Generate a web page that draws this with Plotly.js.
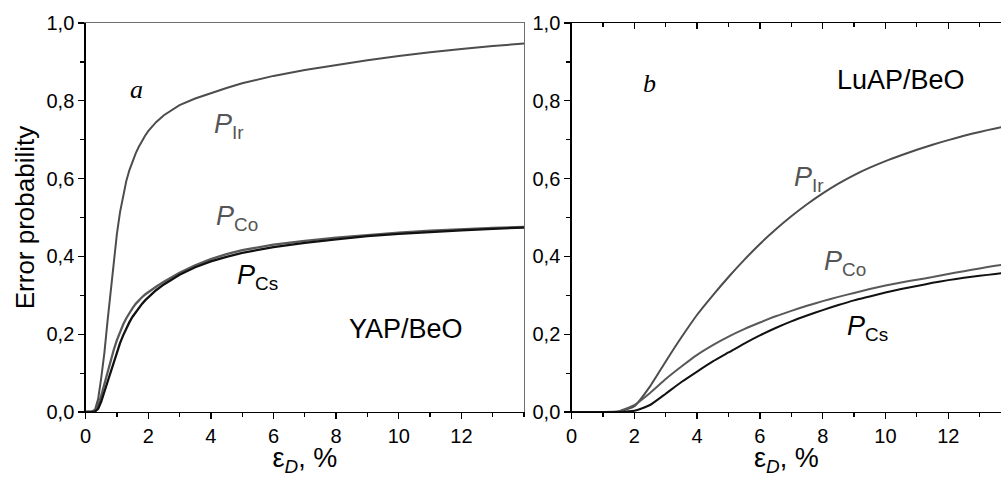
<!DOCTYPE html>
<html>
<head>
<meta charset="utf-8">
<script src="https://cdn.plot.ly/plotly-3.0.1.min.js"></script>
<style>html,body{margin:0;padding:0;background:#fff;}#chart{width:1001px;height:477px;}</style>
</head>
<body>
<div id="chart"></div>
<script>
// ---- Panel a: YAP/BeO ----
const xA  = [0, 0.1, 0.2, 0.3, 0.4, 0.5, 0.6, 0.7, 0.8, 0.9, 1.0, 1.1, 1.2, 1.3, 1.4, 1.5, 1.6, 1.7, 1.8, 1.9, 2.0, 2.25, 2.5, 2.75, 3, 3.5, 4, 4.5, 5, 6, 7, 8, 9, 10, 11, 12, 13, 14];
const irA = [0, 0, 0.001, 0.006, 0.033, 0.088, 0.152, 0.233, 0.313, 0.39, 0.458, 0.514, 0.558, 0.594, 0.622, 0.645, 0.665, 0.682, 0.697, 0.71, 0.722, 0.745, 0.763, 0.777, 0.789, 0.806, 0.82, 0.833, 0.845, 0.864, 0.879, 0.892, 0.904, 0.915, 0.925, 0.933, 0.941, 0.947];
const coA = [0, 0, 0, 0.003, 0.018, 0.042, 0.072, 0.103, 0.133, 0.16, 0.185, 0.206, 0.225, 0.241, 0.255, 0.267, 0.278, 0.287, 0.295, 0.302, 0.308, 0.322, 0.335, 0.347, 0.358, 0.377, 0.393, 0.406, 0.416, 0.43, 0.44, 0.448, 0.455, 0.461, 0.466, 0.47, 0.473, 0.476];
const csA = [0, 0, 0, 0.001, 0.008, 0.027, 0.052, 0.078, 0.104, 0.13, 0.155, 0.177, 0.197, 0.215, 0.231, 0.245, 0.257, 0.268, 0.278, 0.287, 0.295, 0.313, 0.328, 0.341, 0.353, 0.372, 0.387, 0.399, 0.409, 0.424, 0.435, 0.444, 0.452, 0.458, 0.463, 0.467, 0.471, 0.474];

// ---- Panel b: LuAP/BeO ----
const xB  = [0, 0.5, 1, 1.5, 2, 2.5, 3, 3.5, 4, 4.5, 5, 5.5, 6, 6.5, 7, 7.5, 8, 8.5, 9, 9.5, 10, 10.5, 11, 11.5, 12, 12.5, 13, 13.5, 14];
const irB = [0, 0, 0, 0.001, 0.015, 0.066, 0.13, 0.192, 0.25, 0.3, 0.347, 0.391, 0.432, 0.469, 0.503, 0.534, 0.562, 0.587, 0.609, 0.628, 0.645, 0.66, 0.674, 0.687, 0.699, 0.71, 0.72, 0.729, 0.737];
const coB = [0, 0, 0, 0.002, 0.018, 0.049, 0.085, 0.117, 0.147, 0.172, 0.194, 0.213, 0.23, 0.246, 0.26, 0.273, 0.285, 0.296, 0.306, 0.316, 0.325, 0.333, 0.34, 0.347, 0.355, 0.362, 0.369, 0.376, 0.382];
const csB = [0, 0, 0, 0, 0.003, 0.018, 0.047, 0.077, 0.104, 0.13, 0.153, 0.176, 0.197, 0.216, 0.233, 0.248, 0.262, 0.275, 0.287, 0.297, 0.307, 0.316, 0.324, 0.332, 0.339, 0.345, 0.35, 0.355, 0.36];

// ---- ticks ----
const xTickVals = [0, 2, 4, 6, 8, 10, 12];
const xTickText = ['0', '2', '4', '6', '8', '10', '12'];
const yTickVals = [0, 0.2, 0.4, 0.6, 0.8, 1.0];
const yTickText = ['0,0', '0,2', '0,4', '0,6', '0,8', '1,0'];

const FONT = 'Liberation Sans, Arial, Helvetica, sans-serif';
const SERIF = 'Liberation Serif, Times New Roman, serif';
const cIr = '#4d4d4d', cCo = '#595959', cCs = '#111111';
const frameGray = '#6e6e6e';

const lin = {shape: 'linear'};
const sp = {shape: 'spline', smoothing: 0.5};
const traces = [
  {x: xA, y: irA, xaxis: 'x', yaxis: 'y', mode: 'lines', line: Object.assign({color: cIr, width: 2}, lin)},
  {x: xA, y: coA, xaxis: 'x', yaxis: 'y', mode: 'lines', line: Object.assign({color: cCo, width: 2.3}, lin)},
  {x: xA, y: csA, xaxis: 'x', yaxis: 'y', mode: 'lines', line: Object.assign({color: cCs, width: 2.3}, lin)},
  {x: xB, y: irB, xaxis: 'x2', yaxis: 'y2', mode: 'lines', line: Object.assign({color: cIr, width: 2}, sp)},
  {x: xB, y: coB, xaxis: 'x2', yaxis: 'y2', mode: 'lines', line: Object.assign({color: cCo, width: 2}, sp)},
  {x: xB, y: csB, xaxis: 'x2', yaxis: 'y2', mode: 'lines', line: Object.assign({color: cCs, width: 2}, sp)},
  {x: [0], y: [0], xaxis: 'x3', yaxis: 'y2', mode: 'markers', marker: {opacity: 0}, hoverinfo: 'skip'},
  {x: [0], y: [0], xaxis: 'x4', yaxis: 'y3', mode: 'markers', marker: {opacity: 0}, hoverinfo: 'skip'}
];

const tickFont = {family: FONT, size: 20, color: '#000'};
const xTitle = {text: 'ε<sub><i>D</i></sub>, %', font: {family: FONT, size: 27, color: '#000'}, standoff: 0};

function xAxis(domain, range, anchor) {
  return {
    domain: domain, range: range, anchor: anchor,
    showline: true, linecolor: '#000', linewidth: 1.3,
    ticks: 'outside', ticklen: 6, tickwidth: 1.3, tickcolor: '#000',
    tickmode: 'array', tickvals: xTickVals, ticktext: xTickText,
    minor: {tickmode: 'linear', tick0: 0, dtick: 1, ticks: 'outside', ticklen: 4, tickwidth: 1.2, tickcolor: '#000', showgrid: false},
    showgrid: false, zeroline: false, tickfont: tickFont, title: xTitle, fixedrange: true
  };
}
function yAxis(anchor) {
  return {
    domain: [0, 1], range: [0, 1], anchor: anchor,
    showline: true, linecolor: '#000', linewidth: 1.3,
    ticks: 'outside', ticklen: 6, tickwidth: 1.3, tickcolor: '#000',
    tickmode: 'array', tickvals: yTickVals, ticktext: yTickText,
    minor: {tickmode: 'linear', tick0: 0, dtick: 0.1, ticks: 'outside', ticklen: 4, tickwidth: 1.2, tickcolor: '#000', showgrid: false},
    showgrid: false, zeroline: false, tickfont: tickFont, fixedrange: true
  };
}

const xa = xAxis([0.0855, 0.5235], [0, 14], 'y');
const ya = yAxis('x');
ya.title = {text: 'Error probability', font: {family: FONT, size: 26, color: '#000'}, standoff: 4};
const xb = xAxis([0.571, 1], [0, 13.68], 'y2');
const yb = yAxis('x2');
const xb3 = {
  overlaying: 'x2', anchor: 'y2', side: 'top', range: [0, 13.68],
  showline: true, linecolor: '#000', linewidth: 1.3,
  ticks: 'inside', ticklen: 6, tickwidth: 1.3, tickcolor: '#000',
  tickmode: 'array', tickvals: xTickVals, showticklabels: false,
  minor: {tickmode: 'linear', tick0: 0, dtick: 1, ticks: 'inside', ticklen: 4, tickwidth: 1.2, tickcolor: '#000', showgrid: false},
  showgrid: false, zeroline: false, fixedrange: true
};
// frame (top and right) of panel a
const xa4 = {overlaying: 'x', anchor: 'y', side: 'top', range: [0, 14], showline: true, linecolor: frameGray, linewidth: 1.3,
  ticks: '', showticklabels: false, showgrid: false, zeroline: false, fixedrange: true};
const ya3 = {overlaying: 'y', anchor: 'x', side: 'right', range: [0, 1], showline: true, linecolor: frameGray, linewidth: 1.3,
  ticks: '', showticklabels: false, showgrid: false, zeroline: false, fixedrange: true};

function lab(text, x, y, ref, size, color, family) {
  return {text: text, x: x, y: y, xref: ref[0], yref: ref[1], showarrow: false,
    xanchor: 'center', yanchor: 'middle', font: {family: family || FONT, size: size, color: color}};
}

const annotations = [
  lab('<i>a</i>', 1.61, 0.83, ['x', 'y'], 26, '#000', SERIF),
  lab('<i>P</i><sub>Ir</sub>', 4.58, 0.735, ['x', 'y'], 27, '#555'),
  lab('<i>P</i><sub>Co</sub>', 4.83, 0.498, ['x', 'y'], 27, '#555'),
  lab('<i>P</i><sub>Cs</sub>', 5.49, 0.348, ['x', 'y'], 27, '#000'),
  lab('YAP/BeO', 10.23, 0.214, ['x', 'y'], 27, '#000'),
  lab('<i>b</i>', 2.48, 0.845, ['x2', 'y2'], 26, '#000', SERIF),
  lab('LuAP/BeO', 10.51, 0.854, ['x2', 'y2'], 27, '#000'),
  lab('<i>P</i><sub>Ir</sub>', 7.56, 0.6, ['x2', 'y2'], 27, '#555'),
  lab('<i>P</i><sub>Co</sub>', 8.71, 0.384, ['x2', 'y2'], 27, '#555'),
  lab('<i>P</i><sub>Cs</sub>', 9.43, 0.217, ['x2', 'y2'], 27, '#000')
];

const layout = {
  width: 1001, height: 477,
  margin: {l: 0, r: 0, t: 23, b: 65, pad: 0},
  paper_bgcolor: '#fff', plot_bgcolor: '#fff',
  showlegend: false,
  font: {family: FONT, color: '#000'},
  xaxis: xa, yaxis: ya, xaxis2: xb, yaxis2: yb, xaxis3: xb3, xaxis4: xa4, yaxis3: ya3,
  annotations: annotations
};

Plotly.newPlot('chart', traces, layout, {staticPlot: true, displayModeBar: false});
</script>
</body>
</html>
